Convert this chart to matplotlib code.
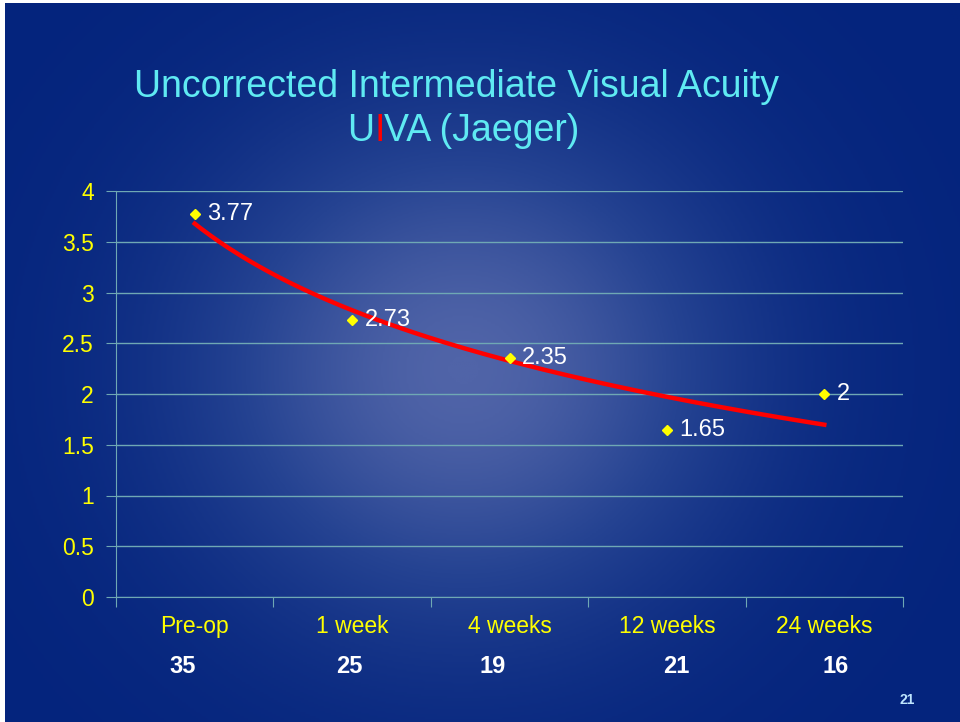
import numpy as np
import matplotlib
matplotlib.use('Agg')
import matplotlib.pyplot as plt
from matplotlib.colors import LinearSegmentedColormap

plt.rcParams['font.family'] = ['Liberation Sans', 'DejaVu Sans']

# Chart data
periods = ['Pre-op', '1 week', '4 weeks', '12 weeks', '24 weeks']
counts = [35, 25, 19, 21, 16]
uiva = [3.77, 2.73, 2.35, 1.65, 2.0]
yticks = [0, 0.5, 1, 1.5, 2, 2.5, 3, 3.5, 4]

# nudges (points) of the count labels, as laid out on the slide
count_dx = [-9, -2, -12, 7, 8]

fig = plt.figure(figsize=(9.6, 7.22), dpi=100, facecolor='white')

# Slide background: dark blue with a lighter glow in the middle
bg = fig.add_axes([5 / 960, 0, 1 - 5 / 960, 1 - 3 / 722])
bg.set_axis_off()
gx, gy = np.meshgrid(np.linspace(-1, 1, 480), np.linspace(-1, 1, 361))
r = np.sqrt(((gx + 0.04) / 0.6) ** 2 + ((gy - 0.02) / 0.75) ** 2)
glow = np.exp(-r ** 2 * 1.2)
cmap = LinearSegmentedColormap.from_list('slide', ['#04247d', '#254392', '#5064a8'])
bg.imshow(glow, cmap=cmap, aspect='auto', extent=[0, 1, 0, 1], vmin=0, vmax=1)
bg.set_xlim(0, 1)
bg.set_ylim(0, 1)

ax = fig.add_axes([116 / 960, 1 - 597 / 722, (903 - 116) / 960, (597 - 191) / 722])
ax.patch.set_alpha(0)

grid_col = '#6fa8b4'
x = np.arange(len(periods))

# Logarithmic trend line (as in the spreadsheet chart)
lx = np.log(x + 1)
slope, icpt = np.polyfit(lx, uiva, 1)
xs = np.linspace(0, len(periods) - 1, 200)
ax.plot(xs, slope * np.log(xs + 1) + icpt, color='#ff0000', linewidth=3.2, zorder=3)

ax.plot(x, uiva, linestyle='none', marker='D', markersize=5.5, color='#ffff00', zorder=4)
for i, v in enumerate(uiva):
    ax.annotate('{:g}'.format(v), (x[i], v), xytext=(9, 0), textcoords='offset points',
                color='white', fontsize=17, va='center', ha='left', zorder=5)

ax.set_xlim(-0.5, len(periods) - 0.5)
ax.set_ylim(0, 4)
ax.set_yticks(yticks)
ax.set_yticklabels(['{:g}'.format(t) for t in yticks])
ax.yaxis.grid(True, color=grid_col, linewidth=1)
ax.set_axisbelow(True)

ax.set_xticks(np.arange(len(periods) + 1) - 0.5)
ax.set_xticklabels([])
ax.set_xticks(x, minor=True)
ax.set_xticklabels(periods, minor=True)
ax.tick_params(axis='x', which='major', length=7, color=grid_col, direction='out')
ax.tick_params(axis='x', which='minor', length=0, pad=13, labelsize=16.5, labelcolor='#ffff00')
ax.tick_params(axis='y', length=7, color=grid_col, labelsize=16.5, labelcolor='#ffff00', pad=9)

for s in ['top', 'right']:
    ax.spines[s].set_visible(False)
for s in ['left', 'bottom']:
    ax.spines[s].set_color(grid_col)

# Patient counts under each period
for i, n in enumerate(counts):
    ax.annotate(str(n), (x[i], 0), xytext=(count_dx[i], -50), textcoords='offset points',
                color='white', fontsize=17, fontweight='bold', ha='center', va='center',
                annotation_clip=False)

# Title
title_col = '#5feaf2'
fig.text(457 / 960, 1 - 87 / 722, 'Uncorrected Intermediate Visual Acuity', color=title_col,
         fontsize=27, ha='center', va='center')

# second line: U + red I + VA (Jaeger), placed piece by piece
fig.canvas.draw()
rend = fig.canvas.get_renderer()
x0 = 347 / 960
yl = 1 - 131 / 722
for part, col in [('U', title_col), ('I', '#ff0000'), ('VA (Jaeger)', title_col)]:
    t = fig.text(x0, yl, part, color=col, fontsize=27, ha='left', va='center')
    w = t.get_window_extent(renderer=rend).width
    x0 += w / fig.bbox.width

fig.text(907 / 960, 1 - 700 / 722, '21', color='#bfe6ff', fontsize=10, fontweight='bold',
         ha='center', va='center')

fig.savefig('out.png', dpi=100, facecolor=fig.get_facecolor())
